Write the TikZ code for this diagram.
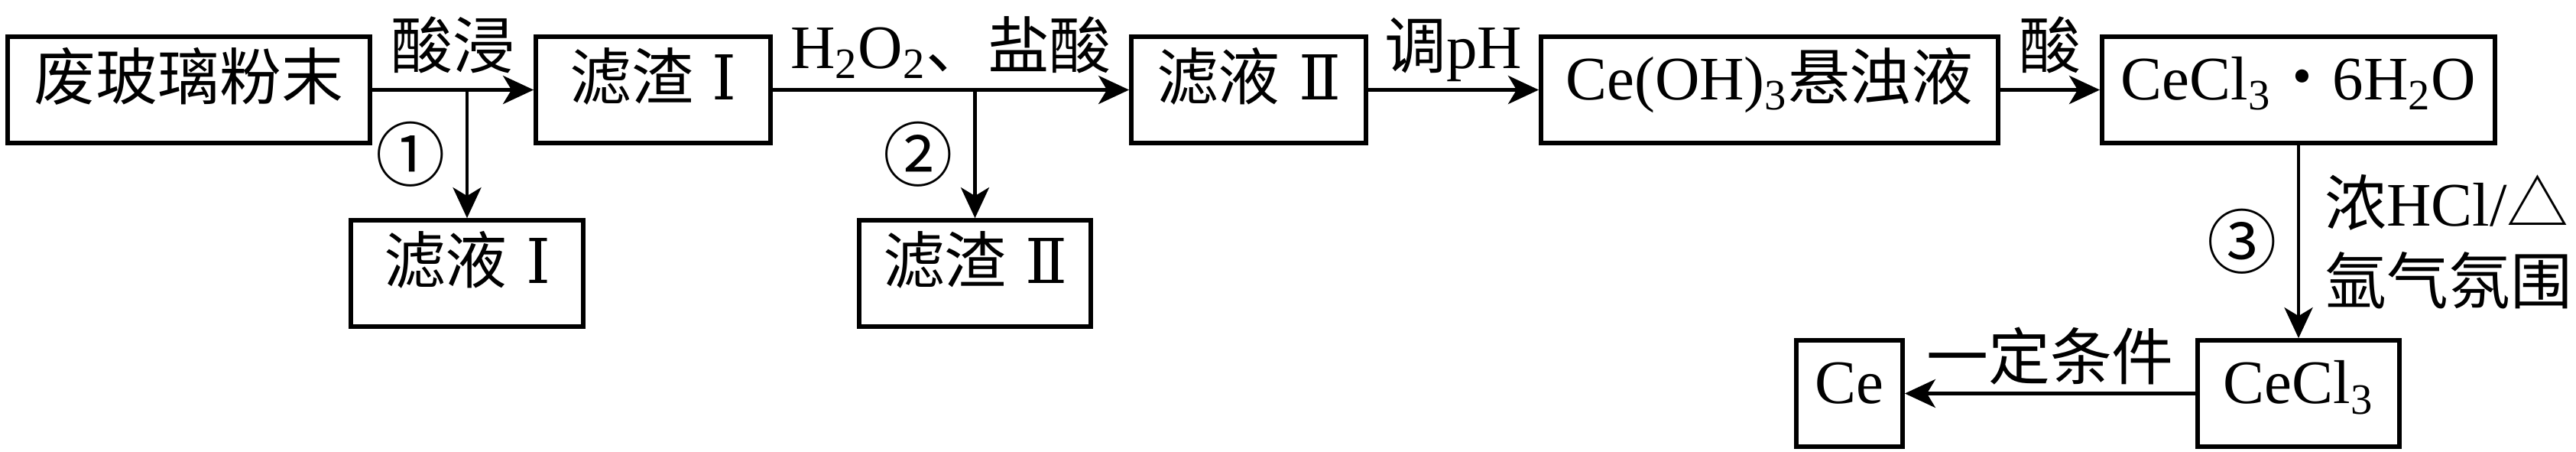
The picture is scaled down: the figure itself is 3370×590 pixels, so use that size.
\documentclass[tikz,border=0pt]{standalone}
\usepackage{fontspec}
\setmainfont{Liberation Serif}
\newfontfamily\zh{Noto Sans CJK SC}
\newfontfamily\rn{DejaVu Serif}
\usetikzlibrary{arrows.meta,positioning}
\newcommand{\RI}{\hspace{0.3em}{\rn Ⅰ}}
\newcommand{\RII}{\hspace{0.3em}{\rn Ⅱ}}
\tikzset{
    block/.style = {draw, rectangle, line width=1.6pt,
        minimum height=1.39cm, inner sep=0pt,
        text height=0.88em, text depth=0.12em, align=center},
    arrow/.style = {draw, line width=1.35pt,
        -{Stealth[length=0.4cm,width=0.37cm,inset=0.11cm]}},
    lbl/.style = {inner sep=0pt, text height=0.9em, text depth=0.25em, above=0.17cm},
    circ/.style = {inner sep=0pt, left=0.26cm, font=\fontsize{26}{29}\selectfont}
}

\begin{document}
\begin{tikzpicture}[x=0.01cm, y=-0.01cm, font=\fontsize{23}{29}\selectfont]
    \useasboundingbox (0,0) rectangle (3370,590);
    \node [block, minimum width=4.74cm] (powder) at (247,117.5) {\zh 废玻璃粉末};
    \node [block, minimum width=3.07cm] (slagA) at (854.5,117.5) {{\zh 滤渣}\RI};
    \node [block, minimum width=3.04cm] (filtA) at (611,357.5) {{\zh 滤液}\RI};
    \node [block, minimum width=3.07cm] (filtB) at (1633.5,117.5) {{\zh 滤液}\RII};
    \node [block, minimum width=3.03cm] (slagB) at (1275.5,357.5) {{\zh 滤渣}\RII};
    \node [block, minimum width=5.98cm] (susp) at (2315,117.5) {Ce(OH)\textsubscript{3}{\zh 悬浊液}};
    \node [block, minimum width=5.14cm] (hydr) at (3007,117.5) {CeCl\textsubscript{3}{\zh ·}6H\textsubscript{2}O};
    \node [block, minimum width=2.64cm] (chlor) at (3007,514.5) {CeCl\textsubscript{3}};
    \node [block, minimum width=1.39cm] (cer) at (2419.5,514.5) {Ce};
    \draw [arrow] (powder) -- node [lbl] {\zh 酸浸} (slagA);
    \draw [arrow] (powder -| filtA) -- node [circ] {\zh ①} (filtA);
    \draw [arrow] (slagA) -- node [lbl] {H\textsubscript{2}O\textsubscript{2}{\zh 、盐酸}} (filtB);
    \draw [arrow] (slagA -| slagB) -- node [circ] {\zh ②} (slagB);
    \draw [arrow] (filtB) -- node [lbl] {{\zh 调}pH} (susp);
    \draw [arrow] (susp) -- node [lbl] {\zh 酸} (hydr);
    \draw [arrow] (hydr) -- node [circ] {\zh ③}
        node [inner sep=0pt, right=0.32cm, align=left] {{\zh 浓}HCl/{\zh △}\\{\zh 氩气氛围}} (chlor);
    \draw [arrow] (chlor) -- node [lbl, above=0.07cm] {\zh 一定条件} (cer);
\end{tikzpicture}
\end{document}
